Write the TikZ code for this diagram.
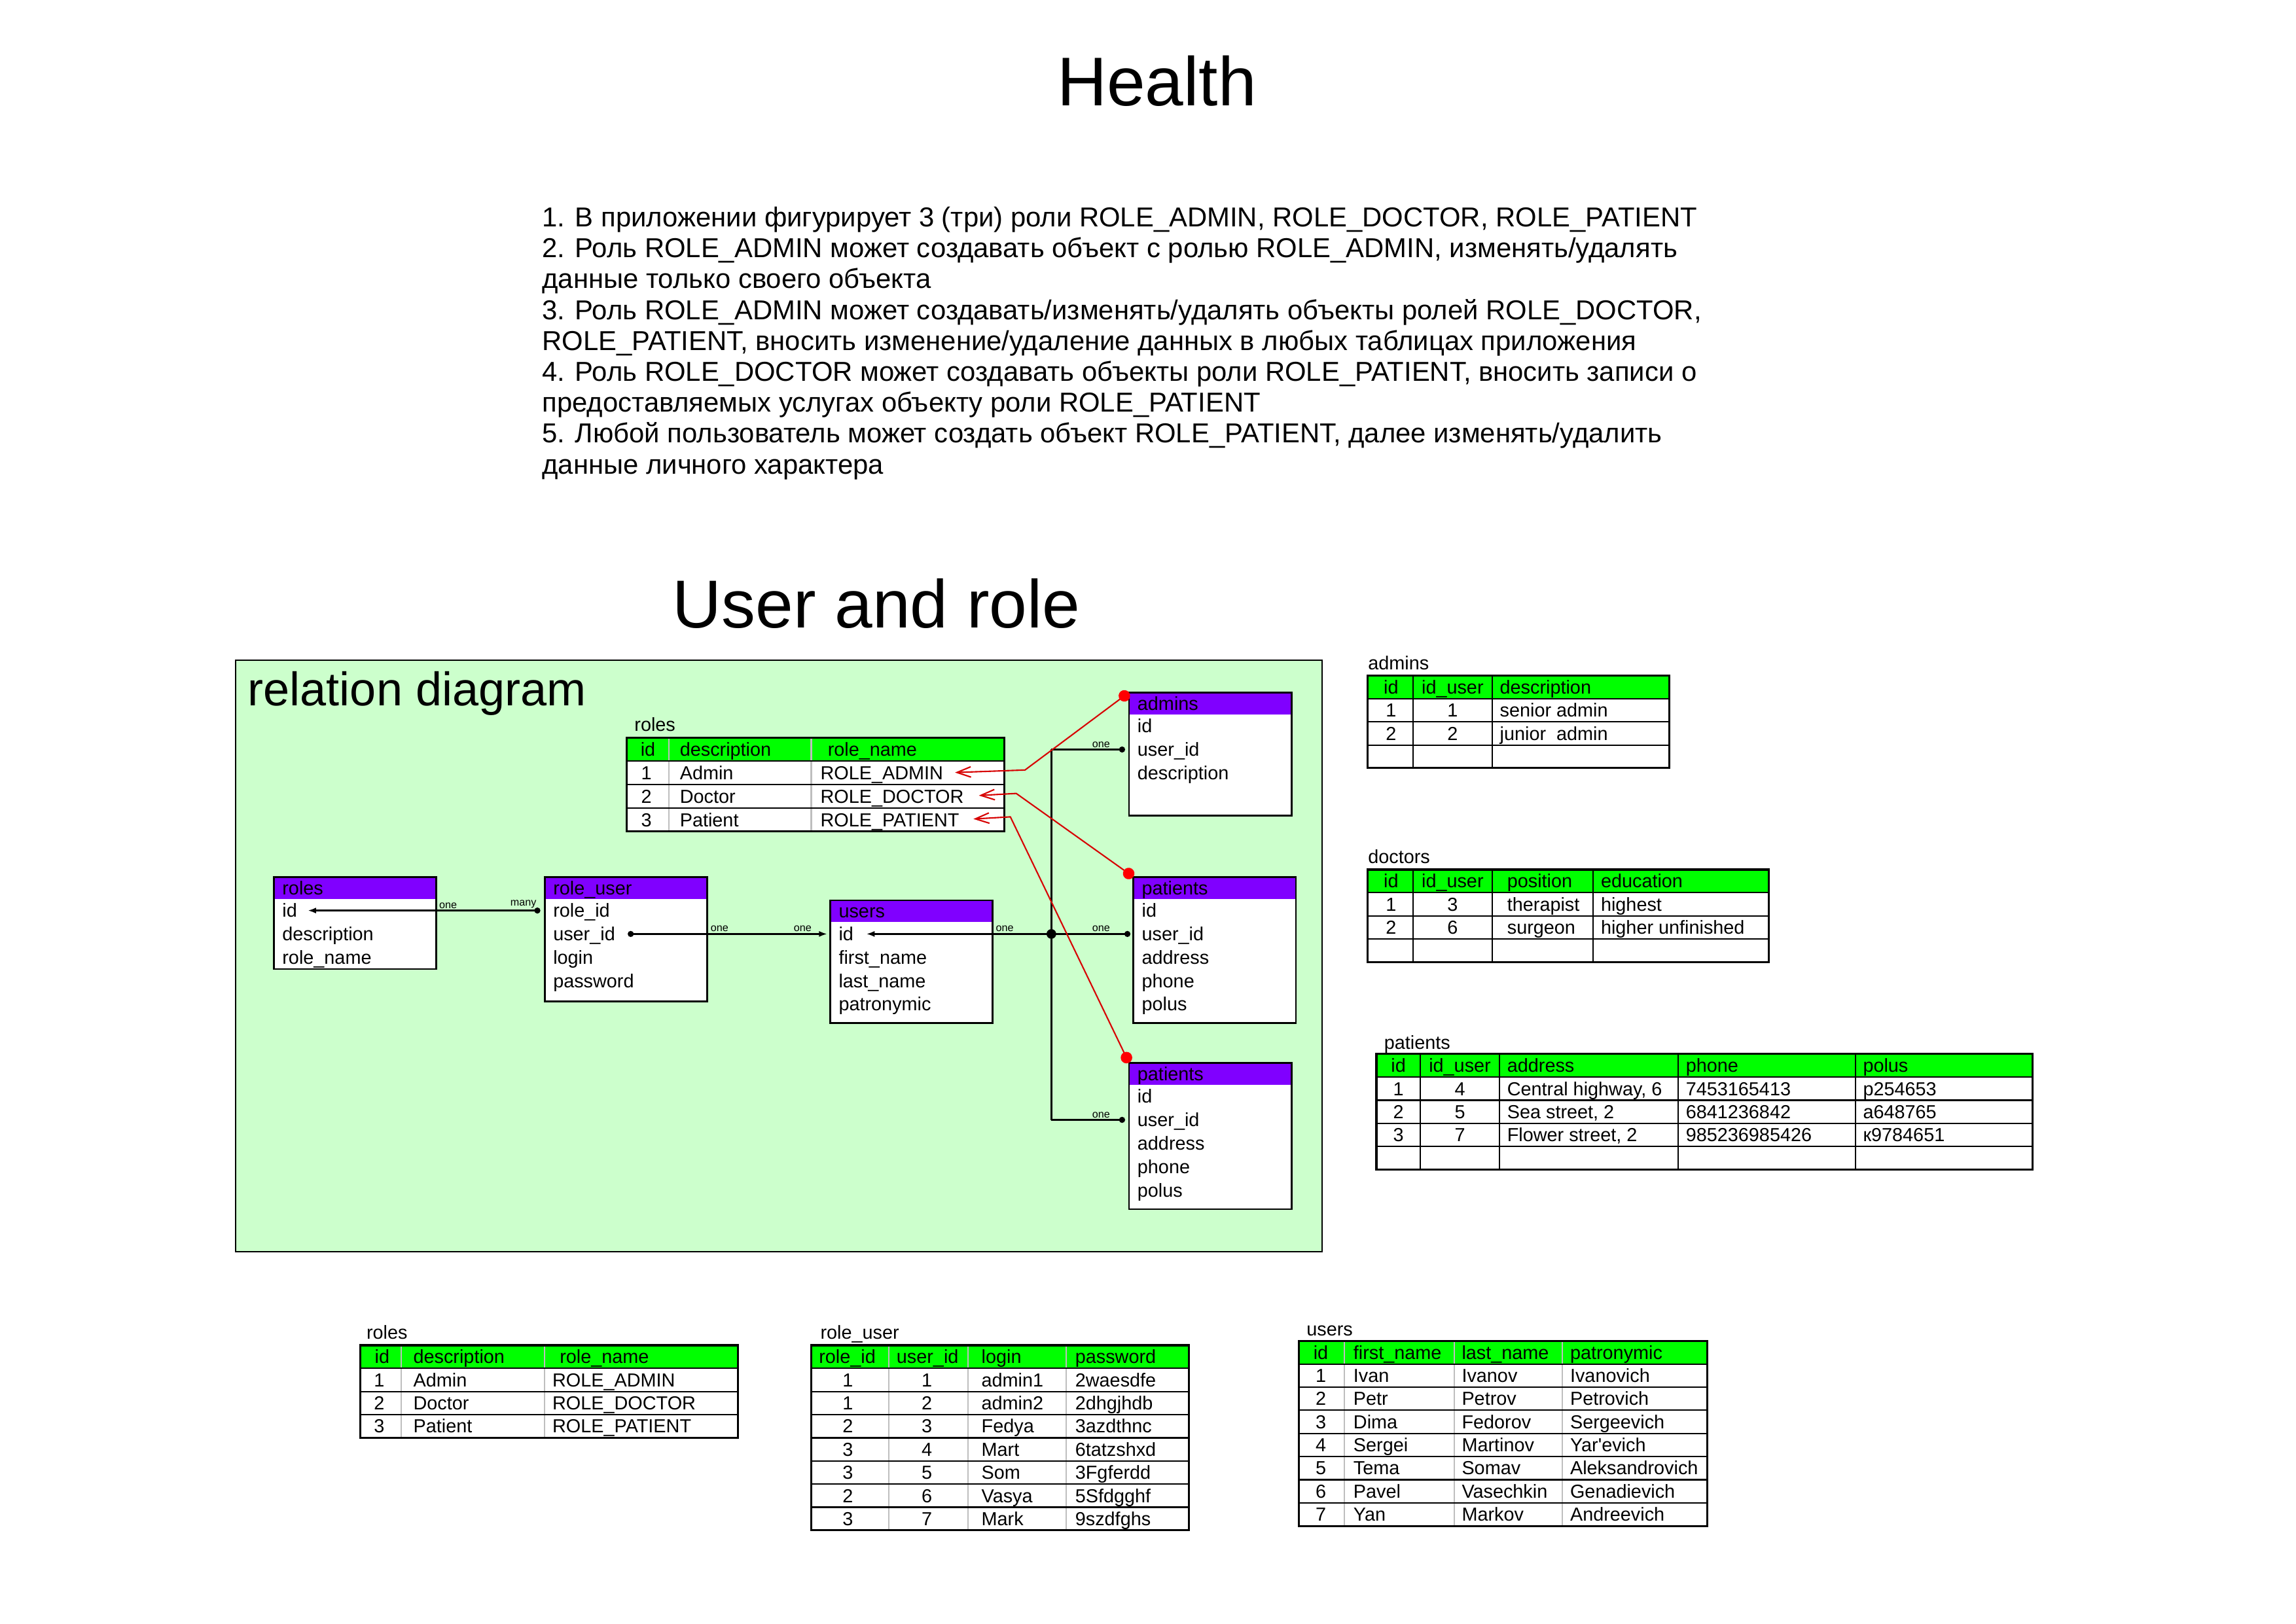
\documentclass[tikz,border=0pt]{standalone}
\usepackage{fontspec}
\setmainfont{Liberation Sans}
\usepackage{tikz}
\usetikzlibrary{arrows.meta}
\definecolor{tablegreen}{RGB}{0,255,0}
\definecolor{headviolet}{RGB}{128,0,255}
\definecolor{diagramgreen}{RGB}{204,255,204}
\definecolor{linkred}{RGB}{215,0,0}
\definecolor{sepgray}{RGB}{190,190,190}

% entity box: name, left, top, bottom, title, fields
\newcommand{\erbox}[6]{%
  \fill[white] (#2,#3) rectangle (#2+111,#4);
  \fill[headviolet] (#2,#3) rectangle (#2+111,#3+15);
  \node[entitybox,minimum height={(#4-#3)*0.02237cm},anchor=north west] (#1) at (#2,#3) {};
  \node[cell] (#1-0) at (#2+5.5,#3+7.5) {#5};
  \foreach \f [count=\k] in {#6}
    \node[cell] (#1-\k) at (#2+5.5,#3+7+16*\k) {\f};
}
% table grid: left, top, right, row height, rows, column lines, column colour
\newcommand{\dbgrid}[7]{%
  \fill[white] (#1,#2) rectangle (#3,#2+#4*#5);
  \fill[tablegreen] (#1,#2) rectangle (#3,#2+#4);
  \foreach \ci in {#6} \draw[rowline,#7] (\ci,#2) -- (\ci,#2+#4*#5);
  \foreach \ri in {1,...,#5} \draw[rowline] (#1,#2+#4*\ri) -- (#3,#2+#4*\ri);
  \draw[frameline] (#1,#2) rectangle (#3,#2+#4*#5);
}

\begin{document}
\begin{tikzpicture}[x=0.02237cm,y=-0.02237cm,
    cell/.style={anchor=west,inner sep=0pt,font=\fontsize{8.2}{9.8}\selectfont,text height=6.6pt,text depth=0.8pt},
    cellc/.style={cell,anchor=center},
    tiny/.style={inner sep=0.6pt,font=\fontsize{4.6}{5}\selectfont},
    entitybox/.style={draw,line width=0.8pt,inner sep=0pt,outer sep=0pt,minimum width={111*0.02237cm}},
    rowline/.style={line width=0.6pt},
    frameline/.style={line width=0.9pt},
    fk/.style={line width=0.7pt},
    hubdot/.style={circle,fill,inner sep=0pt,minimum size=4.2pt},
    rolelink/.style={linkred,line width=0.6pt,{Circle[length=5pt,color=red]}-{Straight Barb[length=6pt,width=4.5pt]}}]

    \useasboundingbox (0,0) rectangle (1568,1109);

    % titles and rules
    \node[anchor=base,inner sep=0pt,font=\fontsize{30}{36}\selectfont] (health) at (790,72) {Health};
    \node[anchor=north west,inner sep=0pt,align=left,font=\fontsize{11.9}{13.43}\selectfont] (rules) at (370,141) {%
      1. В приложении фигурирует 3 (три) роли ROLE\_ADMIN, ROLE\_DOCTOR, ROLE\_PATIENT\\
      2. Роль ROLE\_ADMIN может создавать объект с ролью ROLE\_ADMIN, изменять/удалять\\
      данные только своего объекта\\
      3. Роль ROLE\_ADMIN может создавать/изменять/удалять объекты ролей ROLE\_DOCTOR,\\
      ROLE\_PATIENT, вносить изменение/удаление данных в любых таблицах приложения\\
      4. Роль ROLE\_DOCTOR может создавать объекты роли ROLE\_PATIENT, вносить записи о\\
      предоставляемых услугах объекту роли ROLE\_PATIENT\\
      5. Любой пользователь может создать объект ROLE\_PATIENT, далее изменять/удалить\\
      данные личного характера};
    \node[anchor=base,inner sep=0pt,font=\fontsize{29.5}{35}\selectfont] (userrole) at (598.5,429) {User and role};

    % relation diagram
    \draw[fill=diagramgreen,line width=0.6pt] (161,451) rectangle (903,855);
    \node[anchor=base west,inner sep=0pt,font=\fontsize{20.5}{24}\selectfont] (reldiag) at (169,482) {relation diagram};

    \node[cell] (cap-rt) at (433,495) {roles};
    \dbgrid{428}{504}{686}{16}{4}{457,554}{sepgray}
    \node[cellc] (rt-0-1) at (442.5,512) {id};
    \node[cell] (rt-0-2) at (464,512) {description};
    \node[cell] (rt-0-3) at (565,512) {role\_name};
    \foreach \idx/\desc/\rname [count=\ri] in {1/Admin/ROLE\_ADMIN,2/Doctor/ROLE\_DOCTOR,3/Patient/ROLE\_PATIENT}{
      \node[cellc] (rt-\ri-1) at (441.5,512+16*\ri) {\idx};
      \node[cell] (rt-\ri-2) at (464,512+16*\ri) {\desc};
      \node[cell] (rt-\ri-3) at (560,512+16*\ri) {\rname};
    }

    \erbox{er}{187}{599}{662}{roles}{id,description,role\_name}
    \erbox{ru}{372}{599}{684}{role\_user}{role\_id,user\_id,login,password}
    \erbox{us}{567}{615}{699}{users}{id,first\_name,last\_name,patronymic}
    \erbox{ad}{771}{473}{557}{admins}{id,user\_id,description}
    \erbox{pa}{774}{599}{699}{patients}{id,user\_id,address,phone,polus}
    \erbox{pb}{771}{726}{826}{patients}{id,user\_id,address,phone,polus}

    % keys
    \draw[fk,{Circle[length=2.6pt]}-{Latex[length=3.6pt,width=2.6pt]},shorten <=5.4pt,shorten >=4.5pt] (ru-1.west) --
      node[tiny,pos=0.115,above] {many} node[tiny,pos=0.41,above] {one} (er-1.east);
    \draw[fk,{Circle[length=2.6pt]}-{Latex[length=3.6pt,width=2.6pt]},shorten <=5.3pt,shorten >=4.8pt] (ru-2.east) --
      node[tiny,pos=0.467,above] {one} node[tiny,pos=0.84,above] {one} (us-1.west);
    \node[hubdot] (hub) at (718,638) {};
    \draw[fk,-{Latex[length=3.6pt,width=2.6pt]},shorten >=5.4pt] (hub.center) -- node[tiny,pos=0.236,above] {one} (us-1.east);
    \draw[fk] (hub.center |- ad-2) -- (hub.center |- pb-2);
    \draw[fk,-{Circle[length=2.6pt]},shorten >=5.2pt] (hub.center |- ad-2) -- node[tiny,pos=0.58,above] {one} (ad-2.west);
    \draw[fk,-{Circle[length=2.6pt]},shorten >=4.8pt] (hub.center) -- node[tiny,pos=0.553,above] {one} (pa-2.west);
    \draw[fk,-{Circle[length=2.6pt]},shorten >=5.2pt] (hub.center |- pb-2) -- node[tiny,pos=0.58,above] {one} (pb-2.west);

    % roles of the tables
    \draw[rolelink,shorten >=5pt] (ad.north west) -- (700,526) -- (rt-1-3.east);
    \draw[rolelink,shorten >=6.4pt] (pa.north west) -- (694,542) -- (rt-2-3.east);
    \draw[rolelink,shorten >=6pt] (pb.north west) -- (690,558) -- (rt-3-3.east);

    % admins
    \node[cell] (cap-ad) at (934,453) {admins};
    \dbgrid{934}{461.5}{1140}{15.8}{4}{965,1019}{black}
    \foreach \a/\b/\c [count=\ri from 0] in {id/id\_user/description,1/1/senior admin,2/2/junior\ \ admin}{
      \node[cellc] (tad-\ri-1) at (950,469.4+15.8*\ri) {\a};
      \node[cellc] (tad-\ri-2) at (992,469.4+15.8*\ri) {\b};
      \node[cell] (tad-\ri-3) at (1024,469.4+15.8*\ri) {\c};
    }

    % doctors
    \node[cell] (cap-dc) at (934,585) {doctors};
    \dbgrid{934}{594}{1208}{15.8}{4}{965,1019,1088}{black}
    \foreach \a/\b/\c/\d [count=\ri from 0] in {id/id\_user/position/education,1/3/therapist/highest,2/6/surgeon/higher unfinished}{
      \node[cellc] (tdc-\ri-1) at (950,601.9+15.8*\ri) {\a};
      \node[cellc] (tdc-\ri-2) at (992,601.9+15.8*\ri) {\b};
      \node[cell] (tdc-\ri-3) at (1029,601.9+15.8*\ri) {\c};
      \node[cell] (tdc-\ri-4) at (1093,601.9+15.8*\ri) {\d};
    }

    % patients
    \node[cell] (cap-pt) at (945,712) {patients};
    \dbgrid{940}{720}{1388}{15.8}{5}{970,1024,1146,1267}{black}
    \foreach \a/\b/\c/\d/\e [count=\ri from 0] in {id/id\_user/address/phone/polus,1/4/{Central highway, 6}/7453165413/p254653,2/5/{Sea street, 2}/6841236842/a648765,3/7/{Flower street, 2}/985236985426/к9784651}{
      \node[cellc] (tpt-\ri-1) at (955,727.9+15.8*\ri) {\a};
      \node[cellc] (tpt-\ri-2) at (997,727.9+15.8*\ri) {\b};
      \node[cell] (tpt-\ri-3) at (1029,727.9+15.8*\ri) {\c};
      \node[cell] (tpt-\ri-4) at (1151,727.9+15.8*\ri) {\d};
      \node[cell] (tpt-\ri-5) at (1272,727.9+15.8*\ri) {\e};
    }

    % roles (data)
    \node[cell] (cap-br) at (250,910) {roles};
    \dbgrid{246}{919}{504}{15.8}{4}{274,372}{sepgray}
    \node[cellc] (br-0-1) at (261,926.9) {id};
    \node[cell] (br-0-2) at (282,926.9) {description};
    \node[cell] (br-0-3) at (382,926.9) {role\_name};
    \foreach \idx/\desc/\rname [count=\ri] in {1/Admin/ROLE\_ADMIN,2/Doctor/ROLE\_DOCTOR,3/Patient/ROLE\_PATIENT}{
      \node[cellc] (br-\ri-1) at (259,926.9+15.8*\ri) {\idx};
      \node[cell] (br-\ri-2) at (282,926.9+15.8*\ri) {\desc};
      \node[cell] (br-\ri-3) at (377,926.9+15.8*\ri) {\rname};
    }

    % role_user (data)
    \node[cell] (cap-bu) at (560,910) {role\_user};
    \dbgrid{554}{919}{812}{15.8}{8}{607,661,728}{sepgray}
    \node[cell] (bu-0-1) at (559,926.9) {role\_id};
    \node[cell] (bu-0-2) at (612,926.9) {user\_id};
    \node[cell] (bu-0-3) at (670,926.9) {login};
    \node[cell] (bu-0-4) at (734,926.9) {password};
    \foreach \a/\b/\c/\d [count=\ri] in {1/1/admin1/2waesdfe,1/2/admin2/2dhgjhdb,2/3/Fedya/3azdthnc,3/4/Mart/6tatzshxd,3/5/Som/3Fgferdd,2/6/Vasya/5Sfdgghf,3/7/Mark/9szdfghs}{
      \node[cellc] (bu-\ri-1) at (579,926.9+15.8*\ri) {\a};
      \node[cellc] (bu-\ri-2) at (633,926.9+15.8*\ri) {\b};
      \node[cell] (bu-\ri-3) at (670,926.9+15.8*\ri) {\c};
      \node[cell] (bu-\ri-4) at (734,926.9+15.8*\ri) {\d};
    }

    % users (data)
    \node[cell] (cap-bs) at (892,908) {users};
    \dbgrid{887}{916}{1166}{15.8}{8}{918,993,1067}{sepgray}
    \foreach \a/\b/\c/\d [count=\ri from 0] in {id/first\_name/last\_name/patronymic,1/Ivan/Ivanov/Ivanovich,2/Petr/Petrov/Petrovich,3/Dima/Fedorov/Sergeevich,4/Sergei/Martinov/Yar\textquotesingle evich,5/Tema/Somav/Aleksandrovich,6/Pavel/Vasechkin/Genadievich,7/Yan/Markov/Andreevich}{
      \node[cellc] (bs-\ri-1) at (902,923.9+15.8*\ri) {\a};
      \node[cell] (bs-\ri-2) at (924,923.9+15.8*\ri) {\b};
      \node[cell] (bs-\ri-3) at (998,923.9+15.8*\ri) {\c};
      \node[cell] (bs-\ri-4) at (1072,923.9+15.8*\ri) {\d};
    }

\end{tikzpicture}
\end{document}
